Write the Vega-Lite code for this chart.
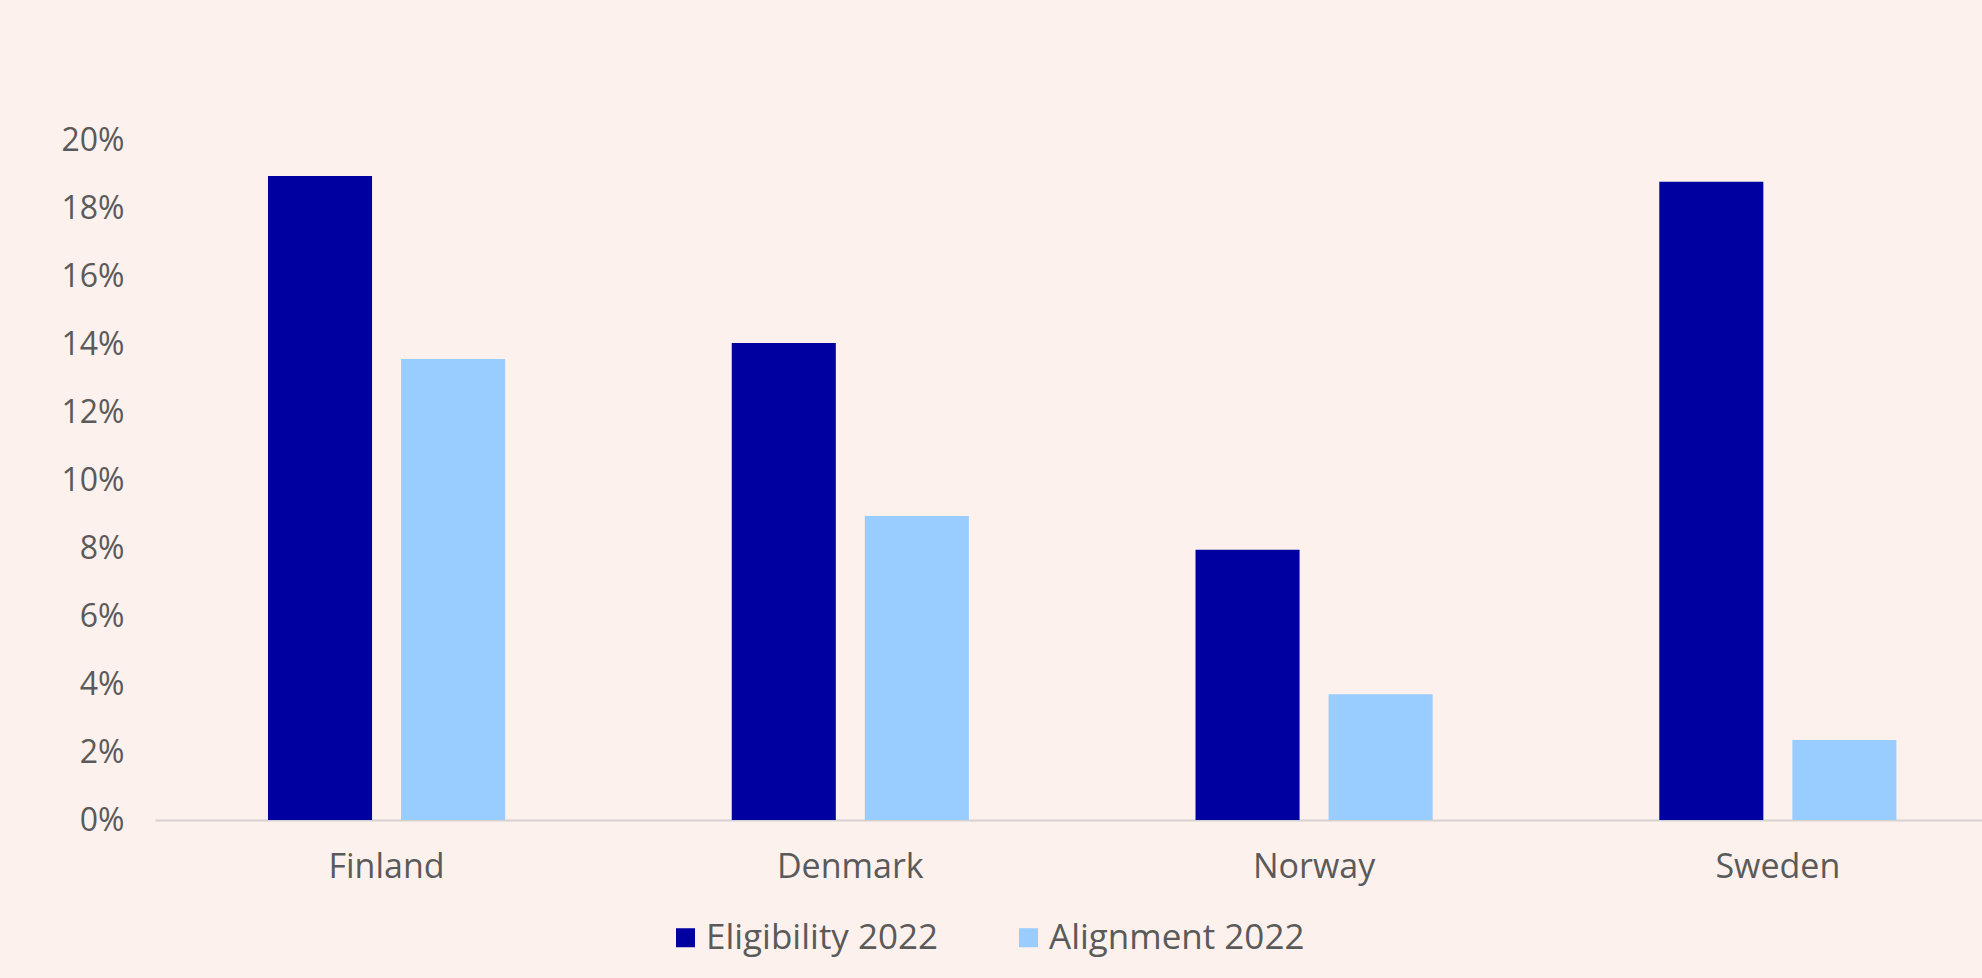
{
  "$schema": "https://vega.github.io/schema/vega-lite/v6.json",
  "width": 1827,
  "height": 680,
  "autosize": {"type": "none"},
  "padding": {"left": 155, "top": 140, "right": 0, "bottom": 158},
  "background": "#fcf1ec",
  "config": {"view": {"stroke": null}, "font": "Open Sans"},
  "data": {
    "values": [
      {"country": "Finland", "series": "Eligibility 2022", "value": 0.1894},
      {"country": "Finland", "series": "Alignment 2022", "value": 0.1356},
      {"country": "Denmark", "series": "Eligibility 2022", "value": 0.1403},
      {"country": "Denmark", "series": "Alignment 2022", "value": 0.0894},
      {"country": "Norway", "series": "Eligibility 2022", "value": 0.0795},
      {"country": "Norway", "series": "Alignment 2022", "value": 0.037},
      {"country": "Sweden", "series": "Eligibility 2022", "value": 0.1877},
      {"country": "Sweden", "series": "Alignment 2022", "value": 0.0235}
    ]
  },
  "mark": {"type": "bar"},
  "encoding": {
    "x": {
      "field": "country",
      "type": "nominal",
      "sort": ["Finland", "Denmark", "Norway", "Sweden"],
      "scale": {"paddingInner": 0.4887, "paddingOuter": 0.2141, "align": 0.569},
      "axis": {
        "title": null,
        "labelAngle": 0,
        "ticks": false,
        "domainColor": "#d6d2d0",
        "domainWidth": 2,
        "labelFontSize": 34,
        "labelColor": "#5a5a5a",
        "labelPadding": 30
      }
    },
    "xOffset": {
      "field": "series",
      "type": "nominal",
      "sort": ["Eligibility 2022", "Alignment 2022"],
      "scale": {"paddingInner": 0.218, "paddingOuter": 0}
    },
    "y": {
      "field": "value",
      "type": "quantitative",
      "scale": {"domain": [0, 0.2]},
      "axis": {
        "title": null,
        "format": ".0%",
        "values": [0, 0.02, 0.04, 0.06, 0.08, 0.1, 0.12, 0.14, 0.16, 0.18, 0.2],
        "grid": false,
        "domain": false,
        "ticks": false,
        "labelPadding": 31,
        "labelFontSize": 32,
        "labelColor": "#5a5a5a"
      }
    },
    "color": {
      "field": "series",
      "type": "nominal",
      "sort": ["Eligibility 2022", "Alignment 2022"],
      "scale": {"domain": ["Eligibility 2022", "Alignment 2022"], "range": ["#0000a0", "#99ccff"]},
      "legend": {
        "title": null,
        "orient": "none",
        "legendX": 513,
        "legendY": 780,
        "direction": "horizontal",
        "symbolType": "square",
        "symbolSize": 361,
        "symbolStrokeWidth": 0,
        "symbolOpacity": 1,
        "labelFontSize": 35,
        "labelLimit": 0,
        "labelColor": "#5a5a5a",
        "labelOffset": 3,
        "columnPadding": 72
      }
    }
  }
}
